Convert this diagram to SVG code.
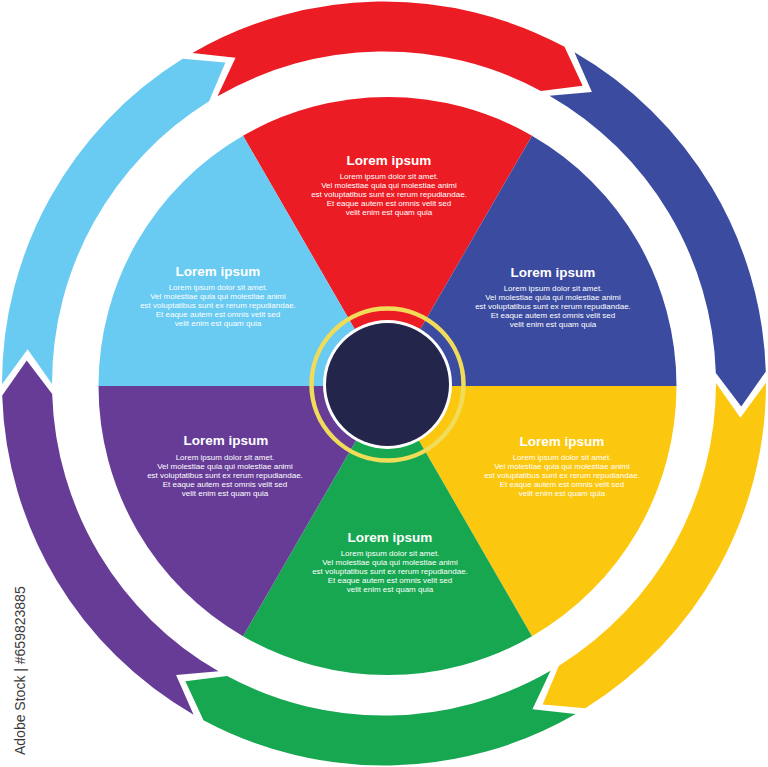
<svg xmlns="http://www.w3.org/2000/svg" xmlns:xlink="http://www.w3.org/1999/xlink" width="768" height="767" viewBox="0 0 768 767">
<style>
.t{font-family:"Liberation Sans",Arial,sans-serif;fill:#fff;text-anchor:middle}
.h{font-size:13.5px;font-weight:bold}
.b{font-size:8px}
.red{fill:#ec1c24}.blu{fill:#3b4ba0}.yel{fill:#fcc70f}.grn{fill:#16a750}.pur{fill:#663c97}.lbl{fill:#69caf2}
</style>
<defs>
<path id="arrow" d="M192.42,53.01 A382,382 0 0 1 564.51,46.84 L582.63,85.66 L540.89,90.91 A332,332 0 0 0 217.50,96.27 L235.54,57.73 Z"/>
</defs>
<rect width="768" height="767" fill="#fff"/>
<g id="connectors">
<use xlink:href="#arrow" class="red"/>
<use xlink:href="#arrow" class="blu" transform="rotate(60 384 383.5)"/>
<use xlink:href="#arrow" class="yel" transform="rotate(120 384 383.5)"/>
<use xlink:href="#arrow" class="grn" transform="rotate(180 384 383.5)"/>
<use xlink:href="#arrow" class="pur" transform="rotate(240 384 383.5)"/>
<use xlink:href="#arrow" class="lbl" transform="rotate(300 384 383.5)"/>
</g>
<g id="node-red">
<path class="red" d="M387.5,386 L243,135.72 A289,289 0 0 1 532,135.72 Z"/>
<text class="t h" x="389" y="165">Lorem ipsum</text>
<text class="t b" x="389" y="178.5"><tspan x="389">Lorem ipsum dolor sit amet.</tspan><tspan x="389" dy="9">Vel molestiae quia qui molestiae animi</tspan><tspan x="389" dy="9">est voluptatibus sunt ex rerum repudiandae.</tspan><tspan x="389" dy="9">Et eaque autem est omnis velit sed</tspan><tspan x="389" dy="9">velit enim est quam quia</tspan></text>
</g>
<g id="node-blue">
<path class="blu" d="M387.5,386 L532,135.72 A289,289 0 0 1 676.5,386 Z"/>
<text class="t h" x="553" y="277">Lorem ipsum</text>
<text class="t b" x="553" y="290.5"><tspan x="553">Lorem ipsum dolor sit amet.</tspan><tspan x="553" dy="9">Vel molestiae quia qui molestiae animi</tspan><tspan x="553" dy="9">est voluptatibus sunt ex rerum repudiandae.</tspan><tspan x="553" dy="9">Et eaque autem est omnis velit sed</tspan><tspan x="553" dy="9">velit enim est quam quia</tspan></text>
</g>
<g id="node-yellow">
<path class="yel" d="M387.5,386 L676.5,386 A289,289 0 0 1 532,636.28 Z"/>
<text class="t h" x="562" y="446">Lorem ipsum</text>
<text class="t b" x="562" y="459.5"><tspan x="562">Lorem ipsum dolor sit amet.</tspan><tspan x="562" dy="9">Vel molestiae quia qui molestiae animi</tspan><tspan x="562" dy="9">est voluptatibus sunt ex rerum repudiandae.</tspan><tspan x="562" dy="9">Et eaque autem est omnis velit sed</tspan><tspan x="562" dy="9">velit enim est quam quia</tspan></text>
</g>
<g id="node-green">
<path class="grn" d="M387.5,386 L532,636.28 A289,289 0 0 1 243,636.28 Z"/>
<text class="t h" x="390" y="542">Lorem ipsum</text>
<text class="t b" x="390" y="555.5"><tspan x="390">Lorem ipsum dolor sit amet.</tspan><tspan x="390" dy="9">Vel molestiae quia qui molestiae animi</tspan><tspan x="390" dy="9">est voluptatibus sunt ex rerum repudiandae.</tspan><tspan x="390" dy="9">Et eaque autem est omnis velit sed</tspan><tspan x="390" dy="9">velit enim est quam quia</tspan></text>
</g>
<g id="node-purple">
<path class="pur" d="M387.5,386 L243,636.28 A289,289 0 0 1 98.5,386 Z"/>
<text class="t h" x="226" y="445">Lorem ipsum</text>
<text class="t b" x="225" y="459.5"><tspan x="225">Lorem ipsum dolor sit amet.</tspan><tspan x="225" dy="9">Vel molestiae quia qui molestiae animi</tspan><tspan x="225" dy="9">est voluptatibus sunt ex rerum repudiandae.</tspan><tspan x="225" dy="9">Et eaque autem est omnis velit sed</tspan><tspan x="225" dy="9">velit enim est quam quia</tspan></text>
</g>
<g id="node-lightblue">
<path class="lbl" d="M387.5,386 L98.5,386 A289,289 0 0 1 243,135.72 Z"/>
<text class="t h" x="218" y="276">Lorem ipsum</text>
<text class="t b" x="218" y="289.5"><tspan x="218">Lorem ipsum dolor sit amet.</tspan><tspan x="218" dy="9">Vel molestiae quia qui molestiae animi</tspan><tspan x="218" dy="9">est voluptatibus sunt ex rerum repudiandae.</tspan><tspan x="218" dy="9">Et eaque autem est omnis velit sed</tspan><tspan x="218" dy="9">velit enim est quam quia</tspan></text>
</g>
<g id="node-center">
<circle cx="387.5" cy="384.5" r="76" fill="none" stroke="#f1dc5a" stroke-width="4.5"/>
<circle cx="387.5" cy="384.5" r="64.5" fill="#fff"/>
<circle cx="387.5" cy="384.5" r="61.5" fill="#23254a"/>
</g>
<text x="25" y="755" transform="rotate(-90 25 755)" font-family="Liberation Sans, Arial, sans-serif" font-size="14" fill="#3a3a3a">Adobe Stock | #659823885</text>
</svg>
